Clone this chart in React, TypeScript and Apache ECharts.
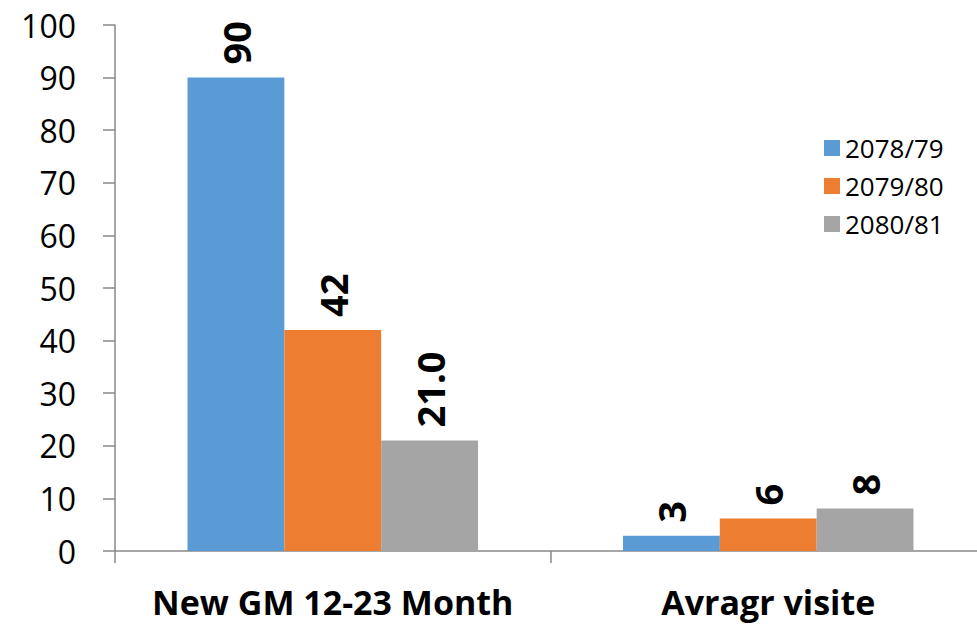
import React, { useEffect, useRef } from "react";
import * as echarts from "echarts";

const categories = ["New GM 12-23 Month", "Avragr visite"];
const seriesNames = ["2078/79", "2079/80", "2080/81"];
const colors = ["#5B9BD5", "#ED7D31", "#A5A5A5"];
const values2078 = [90, 2.9];
const values2079 = [42, 6.2];
const values2080 = [21, 8.1];
const labels2078 = ["90", "3"];
const labels2079 = ["42", "6"];
const labels2080 = ["21.0", "8"];
const yTicks = [0, 10, 20, 30, 40, 50, 60, 70, 80, 90, 100];

export default function App() {
  const ref = useRef<HTMLDivElement>(null);
  useEffect(() => {
    const chart = echarts.init(ref.current!, null, { renderer: "svg" });
    const allValues = [values2078, values2079, values2080];
    const allLabels = [labels2078, labels2079, labels2080];
    const font = "'Open Sans', 'DejaVu Sans', sans-serif";
    chart.setOption({
      animation: false,
      backgroundColor: "#ffffff",
      grid: { left: 115, top: 25, width: 871, height: 526, containLabel: false },
      legend: {
        orient: "vertical",
        left: 819,
        top: 130,
        itemWidth: 16,
        itemHeight: 16,
        itemGap: 12,
        icon: "rect",
        textStyle: { fontSize: 26, color: "#000", fontFamily: font },
        data: seriesNames,
      },
      xAxis: {
        type: "category",
        data: categories,
        axisLine: { lineStyle: { color: "#898989", width: 1.5 } },
        axisTick: { show: true, interval: 0, length: 12, lineStyle: { color: "#898989", width: 1.5 } },
        axisLabel: {
          interval: 0,
          hideOverlap: false,
          fontSize: 34,
          fontWeight: "bold",
          color: "#000",
          fontFamily: font,
          margin: 34,
        },
      },
      yAxis: {
        type: "value",
        min: yTicks[0],
        max: yTicks[yTicks.length - 1],
        interval: 10,
        splitLine: { show: false },
        axisLine: { show: true, lineStyle: { color: "#898989", width: 1.5 } },
        axisTick: { show: true, length: 12, lineStyle: { color: "#898989", width: 1.5 } },
        axisLabel: { fontSize: 32, color: "#000", fontFamily: font, margin: 39 },
      },
      series: seriesNames.map((name, i) => ({
        name,
        type: "bar",
        barGap: "0%",
        barCategoryGap: "33.3%",
        itemStyle: { color: colors[i] },
        data: allValues[i],
        label: {
          show: true,
          position: "top",
          rotate: 90,
          align: "left",
          verticalAlign: "middle",
          distance: 13,
          fontSize: 38,
          fontWeight: "bold",
          color: "#000",
          fontFamily: font,
          formatter: (p: any) => allLabels[i][p.dataIndex],
        },
      })),
    });
    return () => chart.dispose();
  }, []);
  return (
    <div style={{ width: 977, height: 624, position: "absolute", left: 0, top: 0, overflow: "hidden" }}>
      <div ref={ref} style={{ width: 1000, height: 624 }} />
    </div>
  );
}
